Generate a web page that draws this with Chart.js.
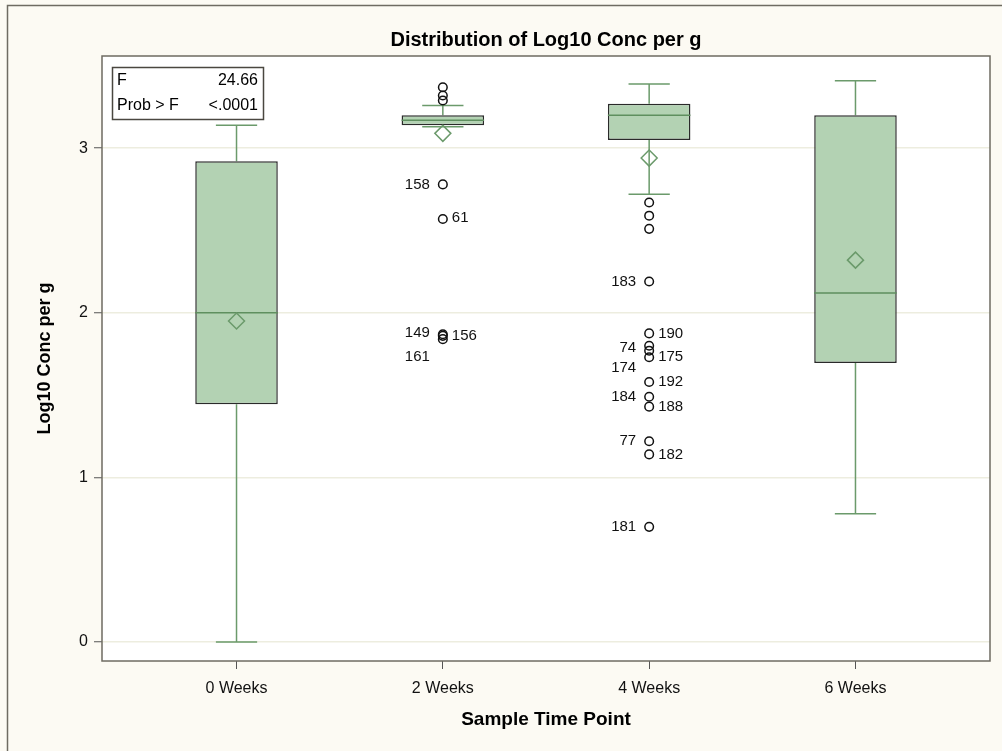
<!DOCTYPE html>
<html>
<head>
<meta charset="utf-8">
<script src="https://cdn.jsdelivr.net/npm/chart.js@4.4.1/dist/chart.umd.min.js"></script>
<style>
html, body { margin: 0; padding: 0; background: #FCFAF3; }
#wrap { width: 1002px; height: 751px; position: relative; }
</style>
</head>
<body>
<div id="wrap"><canvas id="box"></canvas></div>
<script>
// ---- data ----
var groups = ["0 Weeks", "2 Weeks", "4 Weeks", "6 Weeks"];
var whiskerLow  = [0.00, 3.13, 2.72, 0.78];
var q1          = [1.445, 3.14, 3.05, 1.695];
var median      = [2.00, 3.17, 3.20, 2.12];
var q3          = [2.92, 3.20, 3.27, 3.20];
var whiskerHigh = [3.14, 3.26, 3.39, 3.41];
var mean        = [1.95, 3.09, 2.94, 2.32];

var outlierGroup = [1, 1, 1, 1, 1, 1, 1, 1,
                    2, 2, 2, 2, 2, 2, 2, 2, 2, 2, 2, 2, 2, 2];
var outlierValue = [3.37, 3.32, 3.29, 2.78, 2.57, 1.87, 1.86, 1.84,
                    2.67, 2.59, 2.51, 2.19, 1.875, 1.80, 1.77, 1.73, 1.58, 1.49, 1.43, 1.22, 1.14, 0.70];
var outlierId    = ["", "", "", "158", "61", "149", "156", "161",
                    "", "", "", "183", "190", "74", "174", "175", "192", "184", "188", "77", "182", "181"];

var yTicks = [0, 1, 2, 3];
var fValue = "24.66";
var probF = "<.0001";

// ---- build datasets ----
var boxData = groups.map(function (g, i) { return { x: i, y: [q1[i], q3[i]] }; });

var whiskerPts = [];
groups.forEach(function (g, i) {
  whiskerPts.push({ x: i, y: whiskerHigh[i] }, { x: i, y: q3[i] }, { x: i, y: null });
  whiskerPts.push({ x: i, y: q1[i] }, { x: i, y: whiskerLow[i] }, { x: i, y: null });
  whiskerPts.push({ x: i - 0.1, y: whiskerHigh[i] }, { x: i + 0.1, y: whiskerHigh[i] }, { x: i, y: null });
  whiskerPts.push({ x: i - 0.1, y: whiskerLow[i] }, { x: i + 0.1, y: whiskerLow[i] }, { x: i, y: null });
});

var medianPts = [];
groups.forEach(function (g, i) {
  medianPts.push({ x: i - 0.2, y: median[i] }, { x: i + 0.2, y: median[i] }, { x: i, y: null });
});

var meanPts = groups.map(function (g, i) { return { x: i, y: mean[i] }; });
var outPts = outlierValue.map(function (v, k) { return { x: outlierGroup[k], y: v }; });

// label side / vertical nudge for outlier ids
var labelPlace = {
  "158": ["l", 0], "61": ["r", -1], "149": ["l", -1], "156": ["r", 0], "161": ["l", 18],
  "183": ["l", 0], "190": ["r", 0], "74": ["l", 2], "174": ["l", 17], "175": ["r", 0],
  "192": ["r", 0], "184": ["l", 0], "188": ["r", 0], "77": ["l", 0], "182": ["r", 0], "181": ["l", 0]
};

var FONT = '"Liberation Sans", Arial, sans-serif';

var frame = {
  id: 'frame',
  beforeDraw: function (chart) {
    var c = chart.ctx, a = chart.chartArea;
    c.save();
    c.fillStyle = '#FCFAF3';
    c.fillRect(0, 0, chart.width, chart.height);
    c.strokeStyle = '#6E6B62';
    c.lineWidth = 1.5;
    c.beginPath();
    c.moveTo(7.5, 760); c.lineTo(7.5, 5.5); c.lineTo(1010, 5.5);
    c.stroke();
    c.fillStyle = '#FFFFFF';
    c.fillRect(a.left, a.top, a.right - a.left, a.bottom - a.top);
    c.restore();
  },
  afterDraw: function (chart) {
    var c = chart.ctx, a = chart.chartArea;
    c.save();
    c.strokeStyle = '#6E6B62';
    c.lineWidth = 1.5;
    c.strokeRect(a.left, a.top, a.right - a.left, a.bottom - a.top);

    // titles
    c.fillStyle = '#000';
    c.textAlign = 'center';
    c.textBaseline = 'middle';
    c.font = 'bold 20px ' + FONT;
    c.fillText('Distribution of Log10 Conc per g', (a.left + a.right) / 2, 40);
    c.font = 'bold 19px ' + FONT;
    c.fillText('Sample Time Point', (a.left + a.right) / 2, 720);
    c.font = 'bold 18px ' + FONT;
    c.translate(45, (a.top + a.bottom) / 2);
    c.rotate(-Math.PI / 2);
    c.fillText('Log10 Conc per g', 0, 0);
    c.restore();

    // stats inset
    c.save();
    c.fillStyle = '#FFFFFF';
    c.fillRect(112, 67, 151, 52);
    c.strokeStyle = '#4A4740';
    c.lineWidth = 1.5;
    c.strokeRect(112.5, 67.5, 151, 52);
    c.fillStyle = '#000';
    c.font = '16px ' + FONT;
    c.textBaseline = 'middle';
    c.textAlign = 'left';
    c.fillText('F', 117, 81);
    c.fillText('Prob > F', 117, 106);
    c.textAlign = 'right';
    c.fillText(fValue, 258, 81);
    c.fillText(probF, 258, 106);
    c.restore();
  }
};

var outlierLabels = {
  id: 'outlierLabels',
  afterDatasetsDraw: function (chart) {
    var c = chart.ctx;
    var meta = chart.getDatasetMeta(4);
    c.save();
    c.fillStyle = '#111';
    c.font = '15px ' + FONT;
    c.textBaseline = 'middle';
    meta.data.forEach(function (pt, k) {
      var id = outlierId[k];
      if (!id) return;
      var p = labelPlace[id] || ["r", 0];
      if (p[0] === 'l') {
        c.textAlign = 'right';
        c.fillText(id, pt.x - 13, pt.y + p[1]);
      } else {
        c.textAlign = 'left';
        c.fillText(id, pt.x + 9, pt.y + p[1]);
      }
    });
    c.restore();
  }
};

var ctx = document.getElementById('box').getContext('2d');
var chart = new Chart(ctx, {
  type: 'bar',
  data: {
    datasets: [
      {
        type: 'line', data: whiskerPts, order: 5,
        borderColor: '#6B9A6B', borderWidth: 1.5,
        pointRadius: 0, spanGaps: false, tension: 0
      },
      {
        type: 'bar', data: boxData, order: 4,
        backgroundColor: '#B3D2B3', borderColor: '#2A2A2A',
        borderWidth: 1.5, borderSkipped: false,
        categoryPercentage: 1, barPercentage: 0.4
      },
      {
        type: 'line', data: medianPts, order: 3,
        borderColor: '#5F8F5F', borderWidth: 1.5,
        pointRadius: 0, spanGaps: false
      },
      {
        type: 'scatter', data: meanPts, order: 2,
        pointStyle: 'rectRot', pointRadius: 8,
        backgroundColor: 'rgba(0,0,0,0)', borderColor: '#6B9A6B', borderWidth: 1.5
      },
      {
        type: 'scatter', data: outPts, order: 1,
        pointStyle: 'circle', pointRadius: 4.3,
        backgroundColor: 'rgba(0,0,0,0)', borderColor: '#111', borderWidth: 1.5
      }
    ]
  },
  options: {
    responsive: true,
    maintainAspectRatio: false,
    animation: false,
    events: [],
    layout: { padding: { top: 56, right: 12, left: 0, bottom: 0 } },
    plugins: { legend: { display: false }, tooltip: { enabled: false } },
    scales: {
      x: {
        type: 'linear', offset: false,
        min: -0.652, max: 3.652,
        afterFit: function (s) { s.height = 90; },
        afterBuildTicks: function (s) { s.ticks = groups.map(function (g, i) { return { value: i }; }); },
        ticks: {
          includeBounds: false,
          padding: 10,
          color: '#111',
          font: { family: FONT, size: 16 },
          callback: function (v) { return groups[v]; }
        },
        grid: { offset: false, drawOnChartArea: false, tickLength: 8, tickColor: '#555', tickWidth: 1 },
        border: { display: false }
      },
      y: {
        min: -0.115, max: 3.56,
        afterFit: function (s) { s.width = 102; },
        afterBuildTicks: function (s) { s.ticks = yTicks.map(function (v) { return { value: v }; }); },
        ticks: {
          includeBounds: false,
          padding: 6,
          color: '#111',
          font: { family: FONT, size: 16 }
        },
        grid: { color: '#EDEDDF', lineWidth: 1.5, tickLength: 8, tickColor: '#555', tickWidth: 1 },
        border: { display: false }
      }
    }
  },
  plugins: [frame, outlierLabels]
});
</script>
</body>
</html>
